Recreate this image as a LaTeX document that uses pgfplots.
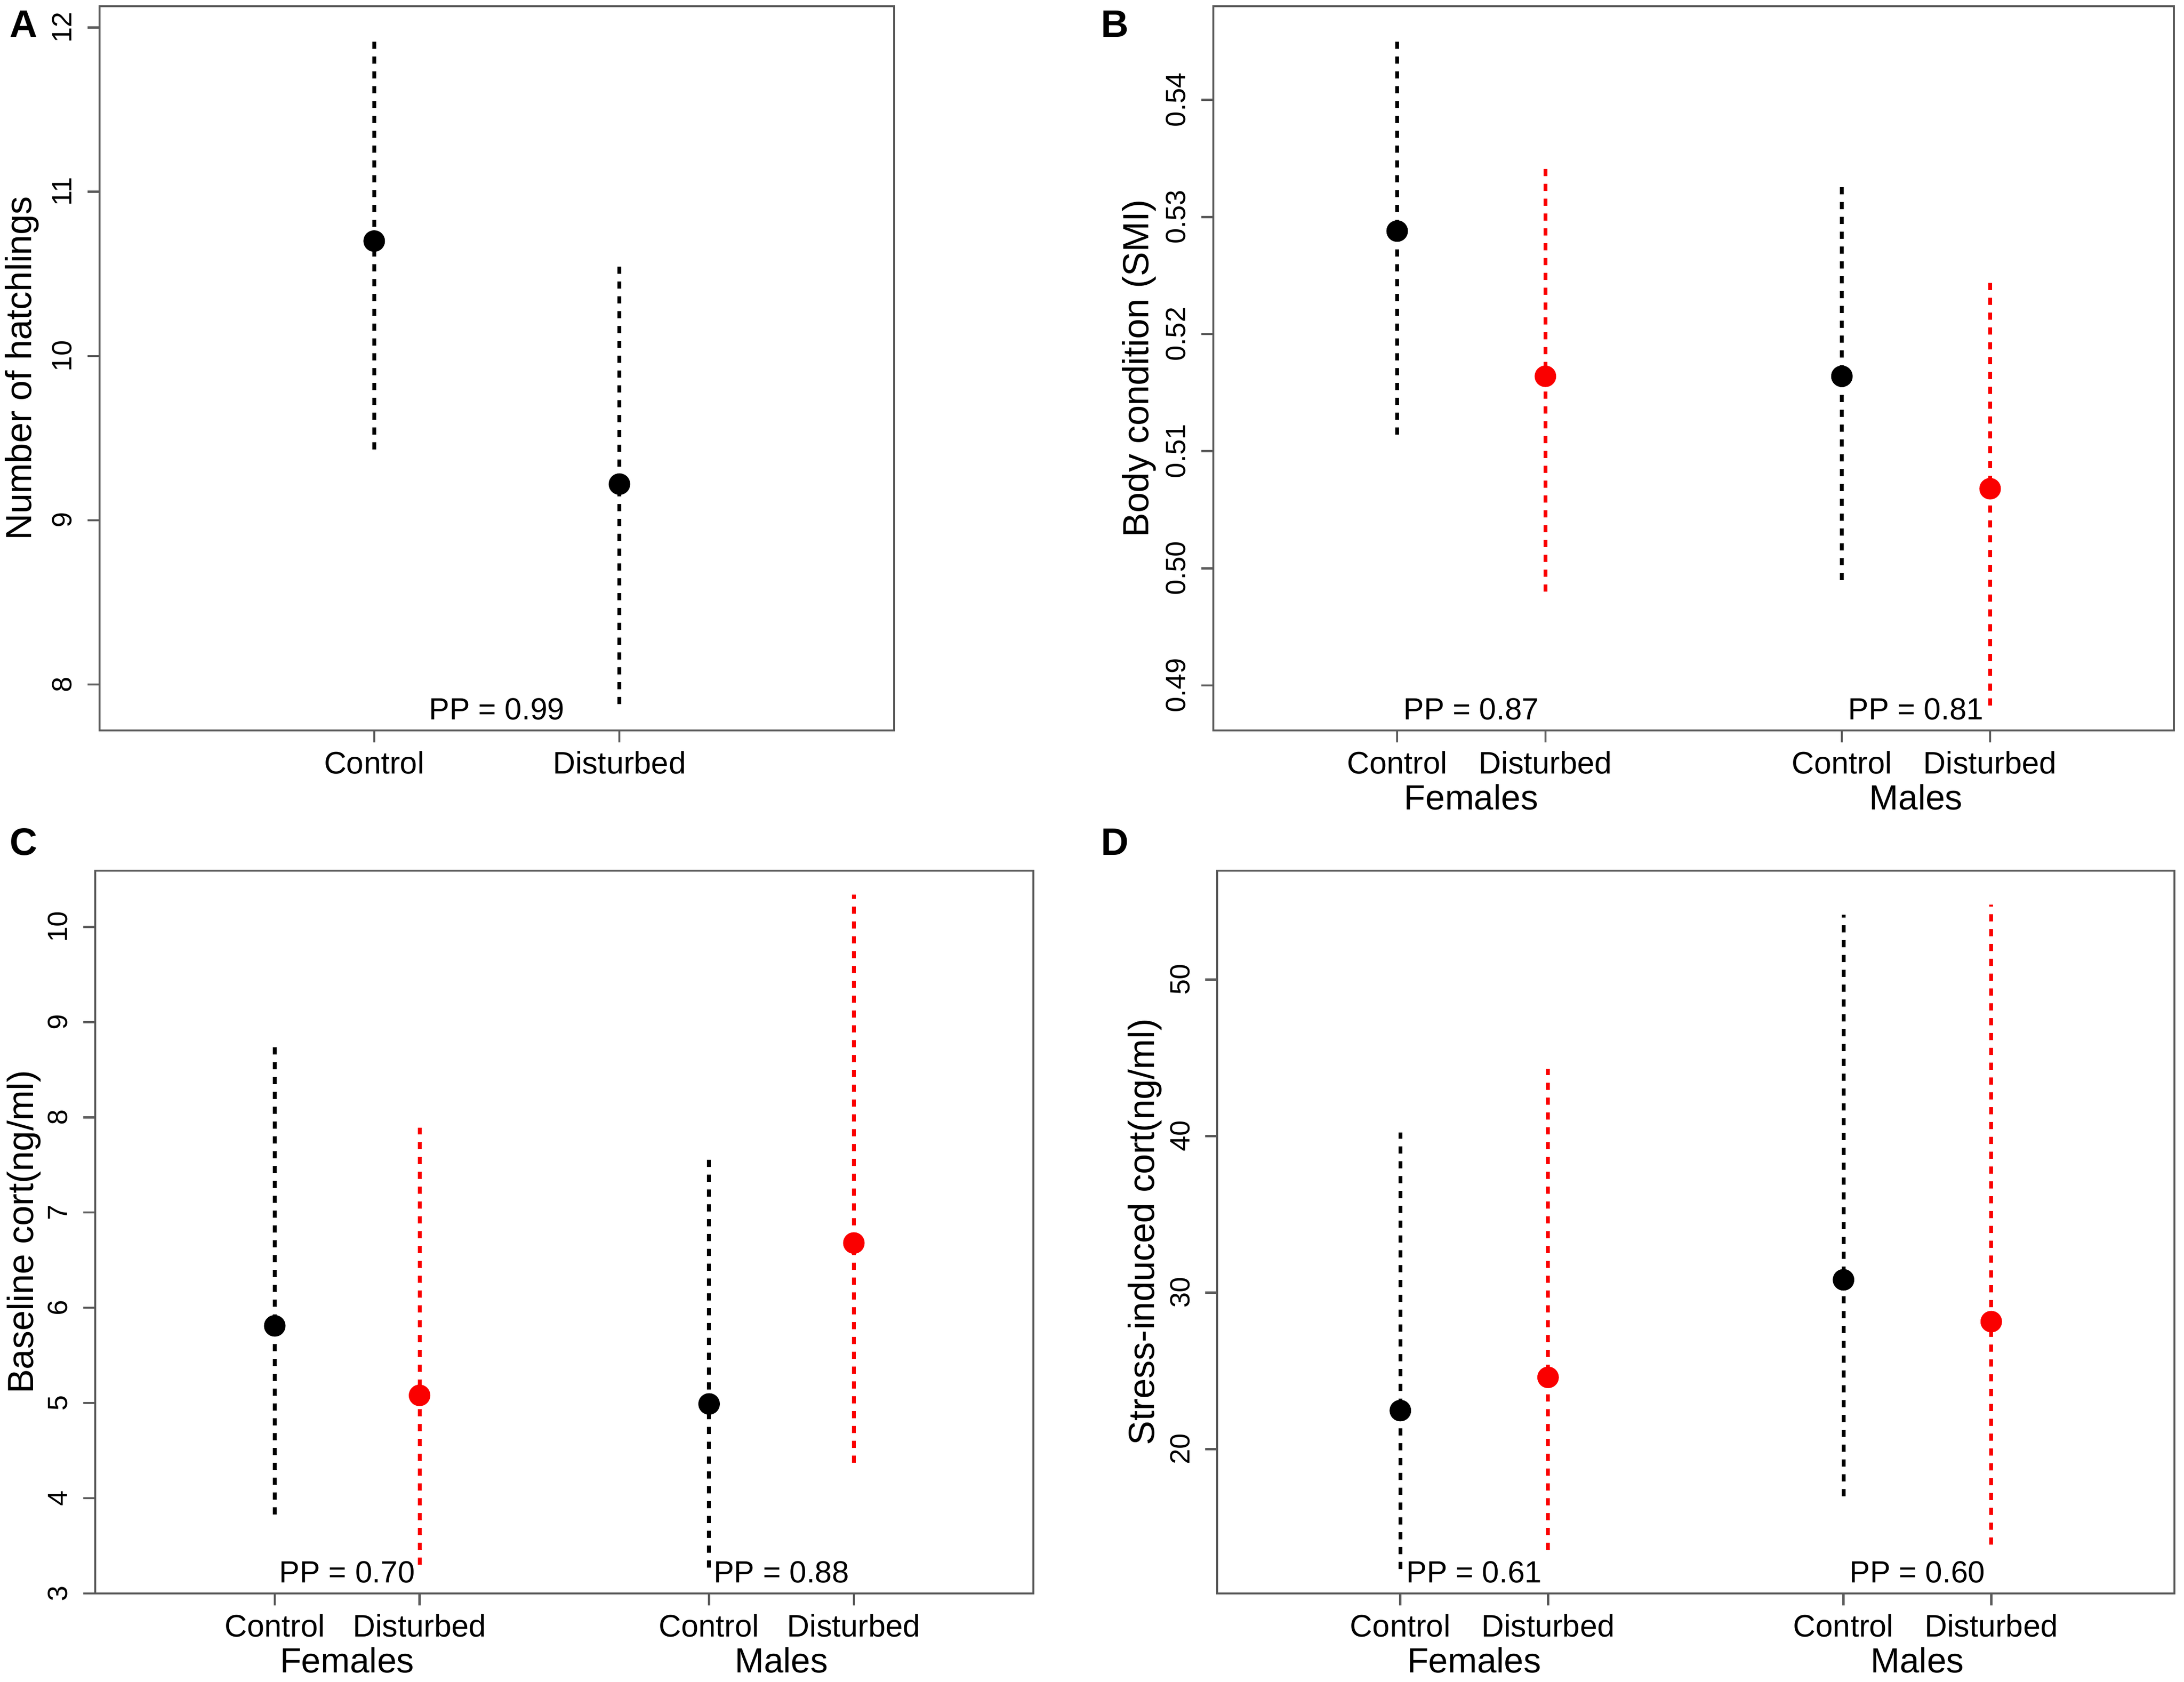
\documentclass[border=0pt]{standalone}
\usepackage{fontspec}
\setmainfont{Liberation Sans}
\usepackage{pgfplots}
\pgfplotsset{compat=1.18}
\definecolor{boxgray}{RGB}{90,90,90}
\definecolor{rred}{RGB}{250,0,0}
\pgfplotsset{
  rpanel/.style={
    scale only axis,
    anchor=south west,
    axis line style={boxgray, line width=0.45pt},
    tick style={boxgray, line width=0.45pt},
    tick align=outside,
    major tick length=2.5pt,
    xtick pos=bottom, ytick pos=left,
    clip=false,
    yticklabel style={font=\fontsize{5.8}{6}\selectfont, rotate=90, anchor=base, inner sep=0pt},
    yticklabel shift=3.3pt,
    xticklabel style={font=\fontsize{6.5}{7}\selectfont, anchor=base, inner sep=0pt},
    xticklabel shift=6.6pt,
    ylabel style={font=\fontsize{7.6}{8}\selectfont, anchor=base},
  },
  ci/.style={line width=0.8pt, dash pattern=on 1.5pt off 1.6pt},
  mn/.style={only marks, mark=*, mark size=2.05pt},
}
\tikzset{
  pp/.style={font=\fontsize{6.4}{7}\selectfont, anchor=base, yshift=2.2pt, inner sep=0pt},
  grp/.style={font=\fontsize{7.3}{8}\selectfont, anchor=base, yshift=-16.6pt, inner sep=0pt},
}
\begin{document}
\begin{tikzpicture}
\path[use as bounding box] (0,0) rectangle (456.3pt,351.4pt);

% ---------------- A ----------------
\begin{axis}[rpanel, at={(20.8pt,198.8pt)}, width=166.0pt, height=151.3pt,
  xmin=-0.12, xmax=3.12, ymin=7.72, ymax=12.13,
  xtick={1,2}, xticklabels={Control,Disturbed},
  ytick={8,9,10,11,12}, yticklabels={8,9,10,11,12},
  ylabel={Number of hatchlings},
  ylabel style={at={(axis description cs:-0.0861,0.5)}}]
\addplot[ci, black] coordinates {(1,9.43) (1,11.92)};
\addplot[ci, black] coordinates {(2,7.88) (2,10.55)};
\addplot[mn, black] coordinates {(1,10.70) (2,9.22)};
\node[pp] at (axis cs:1.5,7.72) {PP = 0.99};
\end{axis}

% ---------------- B ----------------
\begin{axis}[rpanel, at={(253.5pt,198.8pt)}, width=200.7pt, height=151.3pt,
  xmin=-0.24, xmax=6.24, ymin=0.48616, ymax=0.5480,
  xtick={1,2,4,5}, xticklabels={Control,Disturbed,Control,Disturbed},
  ytick={0.49,0.50,0.51,0.52,0.53,0.54}, yticklabels={0.49,0.50,0.51,0.52,0.53,0.54},
  ylabel={Body condition (SMI)},
  ylabel style={at={(axis description cs:-0.0673,0.5)}}]
\addplot[ci, black] coordinates {(1,0.5114) (1,0.5451)};
\addplot[ci, rred]  coordinates {(2,0.4980) (2,0.5342)};
\addplot[ci, black] coordinates {(4,0.4990) (4,0.5327)};
\addplot[ci, rred]  coordinates {(5,0.4883) (5,0.5246)};
\addplot[mn, black] coordinates {(1,0.5288) (4,0.5164)};
\addplot[mn, rred]  coordinates {(2,0.5164) (5,0.5068)};
\node[pp] at (axis cs:1.5,0.48616) {PP = 0.87};
\node[pp] at (axis cs:4.5,0.48616) {PP = 0.81};
\node[grp] at (axis cs:1.5,0.48616) {Females};
\node[grp] at (axis cs:4.5,0.48616) {Males};
\end{axis}

% ---------------- C ----------------
\begin{axis}[rpanel, at={(19.9pt,18.5pt)}, width=196.0pt, height=151.0pt,
  xmin=-0.24, xmax=6.24, ymin=3.0, ymax=10.59,
  xtick={1,2,4,5}, xticklabels={Control,Disturbed,Control,Disturbed},
  ytick={3,4,5,6,7,8,9,10}, yticklabels={3,4,5,6,7,8,9,10},
  ylabel={Baseline cort(ng/ml)},
  ylabel style={at={(axis description cs:-0.0663,0.5)}}]
\addplot[ci, black] coordinates {(1,3.83) (1,8.74)};
\addplot[ci, rred]  coordinates {(2,3.30) (2,7.89)};
\addplot[ci, black] coordinates {(4,3.27) (4,7.56)};
\addplot[ci, rred]  coordinates {(5,4.37) (5,10.34)};
\addplot[mn, black] coordinates {(1,5.81) (4,4.99)};
\addplot[mn, rred]  coordinates {(2,5.08) (5,6.68)};
\node[pp] at (axis cs:1.5,3.0) {PP = 0.70};
\node[pp] at (axis cs:4.5,3.0) {PP = 0.88};
\node[grp] at (axis cs:1.5,3.0) {Females};
\node[grp] at (axis cs:4.5,3.0) {Males};
\end{axis}

% ---------------- D ----------------
\begin{axis}[rpanel, at={(254.3pt,18.5pt)}, width=200.0pt, height=151.0pt,
  xmin=-0.24, xmax=6.24, ymin=10.79, ymax=56.95,
  xtick={1,2,4,5}, xticklabels={Control,Disturbed,Control,Disturbed},
  ytick={20,30,40,50}, yticklabels={20,30,40,50},
  ylabel={Stress-induced cort(ng/ml)},
  ylabel style={at={(axis description cs:-0.066,0.5)}}]
\addplot[ci, black] coordinates {(1,12.36) (1,40.24)};
\addplot[ci, rred]  coordinates {(2,13.56) (2,44.28)};
\addplot[ci, black] coordinates {(4,16.99) (4,54.14)};
\addplot[ci, rred]  coordinates {(5,13.90) (5,54.79)};
\addplot[mn, black] coordinates {(1,22.47) (4,30.82)};
\addplot[mn, rred]  coordinates {(2,24.59) (5,28.15)};
\node[pp] at (axis cs:1.5,10.79) {PP = 0.61};
\node[pp] at (axis cs:4.5,10.79) {PP = 0.60};
\node[grp] at (axis cs:1.5,10.79) {Females};
\node[grp] at (axis cs:4.5,10.79) {Males};
\end{axis}

\begin{scope}[every node/.style={anchor=base west, inner sep=0pt, font=\bfseries\fontsize{8}{9}\selectfont}]
\node at (1.8pt,343.6pt) {A};
\node at (229.8pt,343.6pt) {B};
\node at (1.8pt,172.7pt) {C};
\node at (229.8pt,172.7pt) {D};
\end{scope}
\end{tikzpicture}
\end{document}
